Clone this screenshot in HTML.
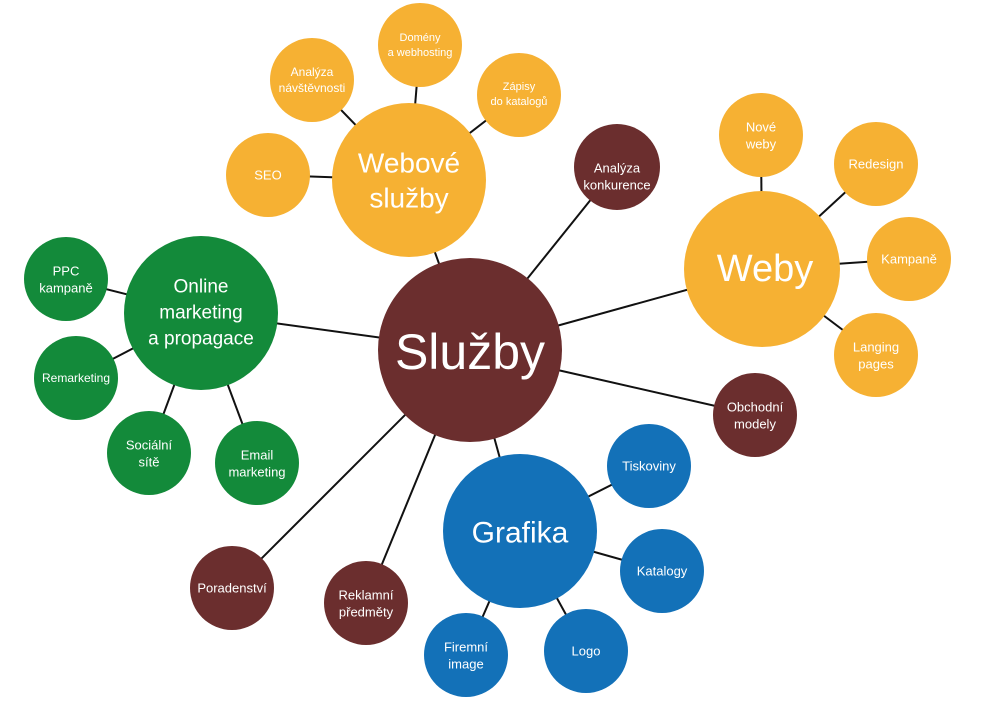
<!DOCTYPE html>
<html><head><meta charset="utf-8"><style>
body{margin:0;background:#fff}
svg text{font-family:"Liberation Sans",sans-serif;fill:#fff;text-anchor:middle;dominant-baseline:central}
</style></head><body>
<svg width="996" height="700" viewBox="0 0 996 700" xmlns="http://www.w3.org/2000/svg">
<g stroke="#111" stroke-width="2">
<line x1="470" y1="350" x2="409" y2="180"/>
<line x1="470" y1="350" x2="617" y2="167"/>
<line x1="470" y1="350" x2="762" y2="269"/>
<line x1="470" y1="350" x2="755" y2="415"/>
<line x1="470" y1="350" x2="520" y2="531"/>
<line x1="470" y1="350" x2="366" y2="603"/>
<line x1="470" y1="350" x2="232" y2="588"/>
<line x1="470" y1="350" x2="201" y2="313"/>
<line x1="409" y1="180" x2="420" y2="45"/>
<line x1="409" y1="180" x2="312" y2="80"/>
<line x1="409" y1="180" x2="519" y2="95"/>
<line x1="409" y1="180" x2="268" y2="175"/>
<line x1="762" y1="269" x2="761" y2="135"/>
<line x1="762" y1="269" x2="876" y2="164"/>
<line x1="762" y1="269" x2="909" y2="259"/>
<line x1="762" y1="269" x2="876" y2="355"/>
<line x1="520" y1="531" x2="649" y2="466"/>
<line x1="520" y1="531" x2="662" y2="571"/>
<line x1="520" y1="531" x2="586" y2="651"/>
<line x1="520" y1="531" x2="466" y2="655"/>
<line x1="201" y1="313" x2="66" y2="279"/>
<line x1="201" y1="313" x2="76" y2="378"/>
<line x1="201" y1="313" x2="149" y2="453"/>
<line x1="201" y1="313" x2="257" y2="463"/>
</g>
<g fill="#f6b133">
<circle cx="409" cy="180" r="77"/><circle cx="420" cy="45" r="42"/><circle cx="312" cy="80" r="42"/><circle cx="519" cy="95" r="42"/><circle cx="268" cy="175" r="42"/>
<circle cx="762" cy="269" r="78"/><circle cx="761" cy="135" r="42"/><circle cx="876" cy="164" r="42"/><circle cx="909" cy="259" r="42"/><circle cx="876" cy="355" r="42"/>
</g>
<g fill="#6b2e2e">
<circle cx="470" cy="350" r="92"/><circle cx="617" cy="167" r="43"/><circle cx="755" cy="415" r="42"/><circle cx="366" cy="603" r="42"/><circle cx="232" cy="588" r="42"/>
</g>
<g fill="#1371b8">
<circle cx="520" cy="531" r="77"/><circle cx="649" cy="466" r="42"/><circle cx="662" cy="571" r="42"/><circle cx="586" cy="651" r="42"/><circle cx="466" cy="655" r="42"/>
</g>
<g fill="#138a3a">
<circle cx="201" cy="313" r="77"/><circle cx="66" cy="279" r="42"/><circle cx="76" cy="378" r="42"/><circle cx="149" cy="453" r="42"/><circle cx="257" cy="463" r="42"/>
</g>
<text x="470" y="352" font-size="50">Služby</text>
<text x="409" y="163" font-size="28">Webové</text><text x="409" y="198" font-size="28">služby</text>
<text x="420" y="38" font-size="11">Domény</text><text x="420" y="53" font-size="11">a webhosting</text>
<text x="312" y="72" font-size="12">Analýza</text><text x="312" y="88" font-size="12">návštěvnosti</text>
<text x="519" y="87" font-size="11">Zápisy</text><text x="519" y="102" font-size="11">do katalogů</text>
<text x="268" y="175" font-size="13">SEO</text>
<text x="617" y="168" font-size="13">Analýza</text><text x="617" y="185" font-size="13">konkurence</text>
<text x="765" y="269" font-size="38">Weby</text>
<text x="761" y="127" font-size="13">Nové</text><text x="761" y="144" font-size="13">weby</text>
<text x="876" y="164" font-size="13">Redesign</text>
<text x="909" y="259" font-size="13">Kampaně</text>
<text x="876" y="347" font-size="13">Langing</text><text x="876" y="364" font-size="13">pages</text>
<text x="755" y="407" font-size="13">Obchodní</text><text x="755" y="424" font-size="13">modely</text>
<text x="520" y="533" font-size="30">Grafika</text>
<text x="649" y="466" font-size="13">Tiskoviny</text>
<text x="662" y="571" font-size="13">Katalogy</text>
<text x="586" y="651" font-size="13">Logo</text>
<text x="466" y="647" font-size="13">Firemní</text><text x="466" y="664" font-size="13">image</text>
<text x="366" y="595" font-size="13">Reklamní</text><text x="366" y="612" font-size="13">předměty</text>
<text x="232" y="588" font-size="13">Poradenství</text>
<text x="201" y="287" font-size="19">Online</text><text x="201" y="313" font-size="19">marketing</text><text x="201" y="339" font-size="19">a propagace</text>
<text x="66" y="271" font-size="13">PPC</text><text x="66" y="288" font-size="13">kampaně</text>
<text x="76" y="378" font-size="12">Remarketing</text>
<text x="149" y="445" font-size="13">Sociální</text><text x="149" y="462" font-size="13">sítě</text>
<text x="257" y="455" font-size="13">Email</text><text x="257" y="472" font-size="13">marketing</text>
</svg>
</body></html>
